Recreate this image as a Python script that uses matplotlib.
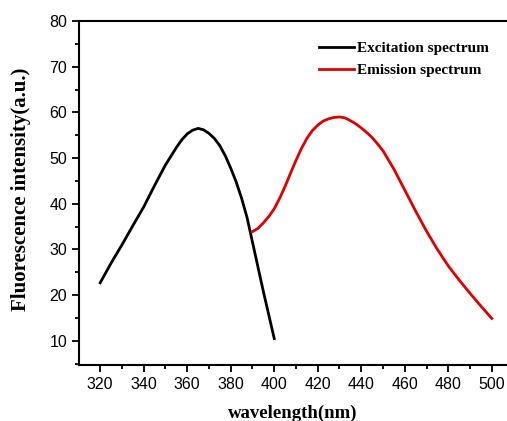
import matplotlib
matplotlib.use("Agg")
import matplotlib.pyplot as plt
from matplotlib.ticker import MultipleLocator

# --- data ---
ex_wl = [320, 325, 330, 335, 340, 345, 350, 355, 357.5, 360, 362.5, 365, 367.5, 370,
         372.5, 375, 377.5, 380, 382.5, 385, 387.5, 390, 395, 400]
ex_int = [22.7, 27.0, 31.0, 35.2, 39.3, 44.0, 48.5, 52.3, 54.0, 55.3, 56.1, 56.5, 56.2, 55.4,
          54.3, 52.7, 50.5, 47.8, 44.8, 41.2, 37.0, 31.6, 20.8, 10.5]

em_wl = [390, 392.5, 395, 397.5, 400, 402.5, 405, 407.5, 410, 412.5, 415, 417.5, 420,
         422.5, 425, 427.5, 430, 432.5, 435, 437.5, 440, 442.5, 445, 447.5, 450,
         455, 460, 465, 470, 475, 480, 485, 490, 495, 500]
em_int = [33.9, 34.6, 35.8, 37.2, 38.9, 41.2, 43.8, 46.7, 49.5, 52.1, 54.3, 56.0, 57.2,
          58.1, 58.6, 58.9, 59.0, 58.8, 58.2, 57.5, 56.6, 55.6, 54.5, 53.1, 51.6,
          47.6, 43.0, 38.4, 34.0, 30.0, 26.4, 23.3, 20.4, 17.6, 14.9]

labels = ["Excitation spectrum", "Emission spectrum"]

serif_bold = {"family": "Liberation Serif", "weight": "bold"}

fig = plt.figure(figsize=(5.07, 4.21), dpi=100)
ax = fig.add_axes([0.156, 0.133, 0.844, 0.817])

ax.plot(ex_wl, ex_int, color="black", lw=2.0, label=labels[0])
ax.plot(em_wl, em_int, color="#e00000", lw=2.0, label=labels[1])

ax.set_xlim(310.3, 507)
ax.set_ylim(4.7, 80)
ax.xaxis.set_major_locator(MultipleLocator(20))
ax.xaxis.set_minor_locator(MultipleLocator(10))
ax.yaxis.set_major_locator(MultipleLocator(10))
ax.yaxis.set_minor_locator(MultipleLocator(5))

ax.spines["right"].set_visible(False)
for s in ["left", "bottom", "top"]:
    ax.spines[s].set_linewidth(1.5)

ax.tick_params(which="both", direction="out", width=1.3, labelsize=11.5)
ax.tick_params(which="major", length=5)
ax.tick_params(which="minor", length=3)
for lab in ax.get_xticklabels() + ax.get_yticklabels():
    lab.set_family("Liberation Sans")

ax.set_xlabel("wavelength(nm)", fontdict=serif_bold, fontsize=13.5)
ax.xaxis.set_label_coords(0.5, -0.116)
ax.set_ylabel("Fluorescence intensity(a.u.)", fontdict=serif_bold, fontsize=15)
ax.yaxis.set_label_coords(-0.112, 0.51)

ax.legend(loc="upper right", bbox_to_anchor=(0.99, 0.98), frameon=False,
          prop={"family": "Liberation Serif", "weight": "bold", "size": 11},
          handlelength=2.3, handletextpad=0.2, labelspacing=0.55)

fig.savefig("out.png", dpi=100)
